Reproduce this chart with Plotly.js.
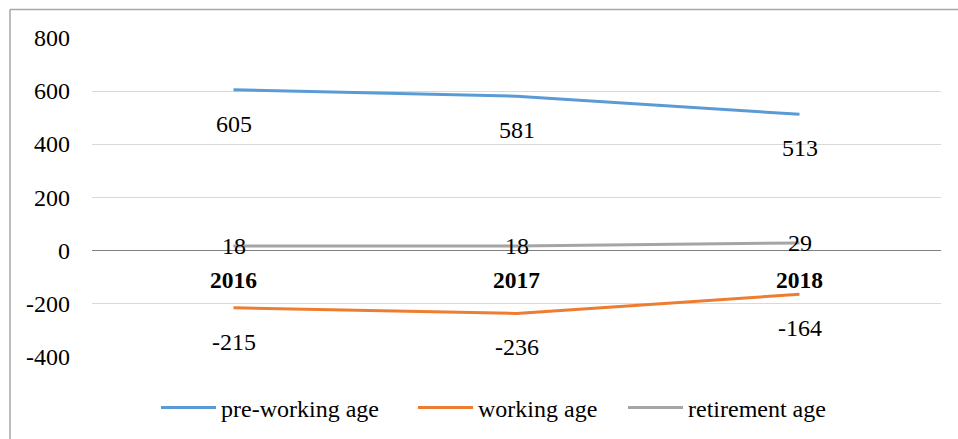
<!DOCTYPE html>
<html>
<head>
<meta charset="utf-8">
<script src="https://cdn.plot.ly/plotly-3.0.1.min.js"></script>
<style>html,body{margin:0;padding:0;background:#fff;}#chart{width:958px;height:439px;}</style>
</head>
<body>
<div id="chart"></div>
<script>
const categories = ["2016", "2017", "2018"];
const preWorking = [605, 581, 513];
const working = [-215, -236, -164];
const retirement = [18, 18, 29];
const seriesNames = ["pre-working age", "working age", "retirement age"];
const tickValues = [-400, -200, 0, 200, 400, 600, 800];
const tickLabels = ["-400", "-200", "0", "200", "400", "600", "800"];
const colors = ["#5b9bd5", "#ed7d31", "#a5a5a5"];

const FONT = "Liberation Serif";
const allSeries = [preWorking, working, retirement];
const labelShift = [-34, -34, 0];
const legendIds = ["legend", "legend2", "legend3"];

const traces = allSeries.map((vals, i) => ({
  type: "scatter", mode: "lines", x: categories, y: vals, name: seriesNames[i],
  legend: legendIds[i],
  line: {color: colors[i], width: 3}, hoverinfo: "skip"
}));

const annotations = [];
allSeries.forEach((vals, i) => {
  vals.forEach((v, j) => {
    annotations.push({x: j, y: v, xref: "x", yref: "y", text: String(v),
      showarrow: false, yshift: labelShift[i], font: {family: FONT, size: 24, color: "#000"}});
  });
});
categories.forEach((c, j) => {
  annotations.push({x: j, y: 0, xref: "x", yref: "y", text: "<b>" + c + "</b>",
    showarrow: false, yshift: -29, font: {family: FONT, size: 23.5, color: "#000"}});
});
tickValues.forEach((t, k) => {
  annotations.push({x: 0, y: t, xref: "paper", yref: "y", text: tickLabels[k],
    xanchor: "right", xshift: -20, showarrow: false, font: {family: FONT, size: 24, color: "#000"}});
});

const ml = 92, mr = 17, mt = 38, mb = 82, W = 958, H = 439;
const pw = W - ml - mr, ph = H - mt - mb;
const px = p => (p - ml) / pw;
const py = p => (H - mb - p) / ph;

const legendStarts = [156, 413, 623];
const mkLegend = s => ({orientation: "h", xref: "container", yref: "container",
  x: s / W, xanchor: "left", y: (H - 408) / H, yanchor: "middle",
  itemwidth: 55, bgcolor: "rgba(0,0,0,0)", font: {family: FONT, size: 24, color: "#000"}});

const layout = {
  width: W, height: H,
  margin: {l: ml, r: mr, t: mt, b: mb, pad: 0, autoexpand: false},
  paper_bgcolor: "#fff", plot_bgcolor: "#fff",
  font: {family: FONT, color: "#000"},
  showlegend: true,
  legend: mkLegend(legendStarts[0]),
  legend2: mkLegend(legendStarts[1]),
  legend3: mkLegend(legendStarts[2]),
  xaxis: {type: "category", range: [-0.5, 2.5], showticklabels: false, showgrid: false,
    zeroline: false, showline: false, ticks: "", fixedrange: true},
  yaxis: {range: [-400, 800], tickvals: tickValues, showticklabels: false,
    showgrid: true, gridcolor: "#d9d9d9", gridwidth: 1,
    zeroline: true, zerolinecolor: "#7f7f7f", zerolinewidth: 1.5,
    showline: false, ticks: "", fixedrange: true},
  annotations: annotations,
  shapes: [
    {type: "line", xref: "paper", yref: "paper", x0: px(10), x1: px(958), y0: py(9.5), y1: py(9.5),
      line: {color: "#a6a6a6", width: 1.5}, layer: "below"},
    {type: "line", xref: "paper", yref: "paper", x0: px(10), x1: px(10), y0: py(9.5), y1: py(439),
      line: {color: "#a6a6a6", width: 1.5}, layer: "below"}
  ]
};

Plotly.newPlot("chart", traces, layout, {displayModeBar: false, staticPlot: true});
</script>
</body>
</html>
